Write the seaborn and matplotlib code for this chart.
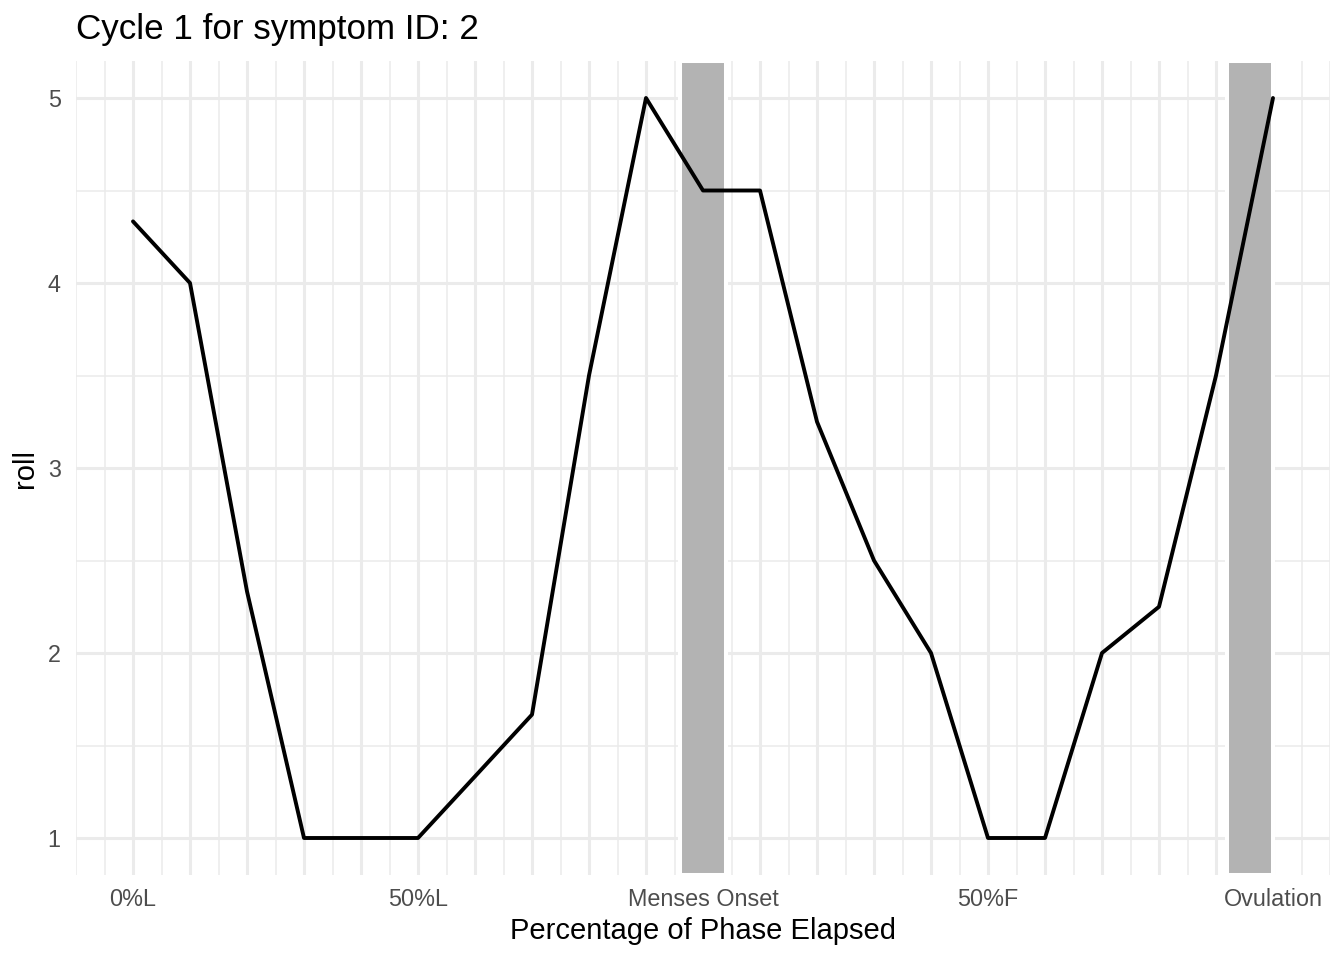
import numpy as np
import pandas as pd
import matplotlib
matplotlib.use("Agg")
import matplotlib.pyplot as plt
import seaborn as sns

# phase position (-1 = 0%L, 0 = menses onset, 1 = ovulation)
phase_pos = [-1.0, -0.9, -0.8, -0.7, -0.6, -0.5, -0.4, -0.3, -0.2, -0.1, 0.0,
             0.1, 0.2, 0.3, 0.4, 0.5, 0.6, 0.7, 0.8, 0.9, 1.0]
roll = [4.333, 4.0, 2.333, 1.0, 1.0, 1.0, 1.333, 1.667, 3.5, 5.0, 4.5,
        4.5, 3.25, 2.5, 2.0, 1.0, 1.0, 2.0, 2.25, 3.5, 5.0]

tick_pos = [-1.0, -0.5, 0.0, 0.5, 1.0]
tick_labels = ["0%L", "50%L", "Menses Onset", "50%F", "Ovulation"]

# shaded windows (menses onset, ovulation)
shade_start = [-0.04, 0.92]
shade_end = [0.04, 1.0]

df = pd.DataFrame({"x": phase_pos, "roll": roll})

sns.set_theme(style="white")
plt.rcParams['font.family'] = ['Liberation Sans', 'DejaVu Sans']

fig, ax = plt.subplots(figsize=(13.44, 9.6), dpi=100)
fig.subplots_adjust(left=76/1344, right=1330/1344, top=1-61/960, bottom=1-875/960)

grid_col = "#EBEBEB"
# minor grid
for v in np.arange(-1.1, 1.1001, 0.05):
    ax.axvline(v, color=grid_col, lw=1.1, zorder=0.5)
for v in [1.5, 2.5, 3.5, 4.5]:
    ax.axhline(v, color=grid_col, lw=1.1, zorder=0.5)
# major grid
for v in phase_pos:
    ax.axvline(v, color=grid_col, lw=2.2, zorder=0.6)
for v in [1, 2, 3, 4, 5]:
    ax.axhline(v, color=grid_col, lw=2.2, zorder=0.6)

for s, e in zip(shade_start, shade_end):
    ax.axvspan(s, e, facecolor="#B3B3B3", edgecolor="white", lw=2.9, zorder=1)

sns.lineplot(data=df, x="x", y="roll", color="black", linewidth=2.8, ax=ax, zorder=3)

ax.set_xlim(-1.1, 1.1)
ax.set_ylim(0.8, 5.2)

labels = []
for p in phase_pos:
    lab = ""
    for tp, tl in zip(tick_pos, tick_labels):
        if abs(tp - p) < 1e-9:
            lab = tl
    labels.append(lab)
ax.set_xticks(phase_pos)
ax.set_xticklabels(labels)
ax.set_yticks([1, 2, 3, 4, 5])
ax.tick_params(axis="both", length=0, labelsize=16.8, labelcolor="#4D4D4D")
ax.tick_params(axis="x", pad=9)
ax.tick_params(axis="y", pad=11)

for sp in ax.spines.values():
    sp.set_visible(False)

ax.set_xlabel("Percentage of Phase Elapsed", fontsize=21, color="black", labelpad=5)
ax.set_ylabel("roll", fontsize=21, color="black", labelpad=6)
ax.set_title("Cycle 1 for symptom ID: 2", loc="left", fontsize=25.2, color="black", pad=16)

plt.savefig("out.png", dpi=100)
